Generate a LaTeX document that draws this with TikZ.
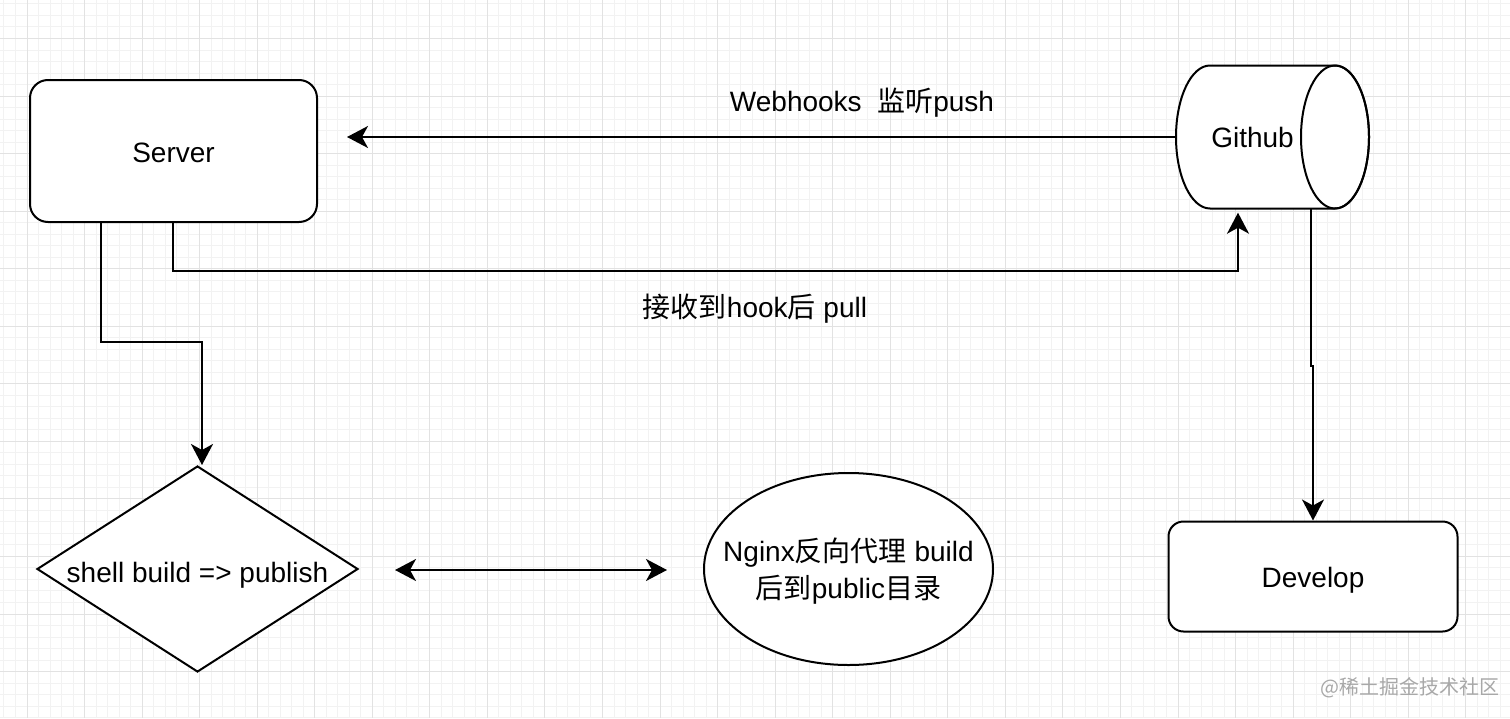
\documentclass[tikz,border=0pt]{standalone}
\usepackage{fontspec}
\setmainfont{Liberation Sans}
\newfontfamily\zhfont{Noto Sans CJK SC}
\newcommand{\zhtxt}[1]{{\zhfont #1}}
\usetikzlibrary{arrows.meta,shapes.geometric,calc}
\definecolor{gridmajor}{HTML}{E2E2E2}
\definecolor{gridminor}{HTML}{F2F2F2}
\definecolor{markgray}{HTML}{A8A8A8}

\begin{document}
\begin{tikzpicture}[x=1pt, y=-1pt,
  font=\fontsize{28}{35}\selectfont,
  minorgrid/.style={gridminor, line width=1pt},
  majorgrid/.style={gridmajor, line width=1pt},
  box/.style={draw, line width=2pt, fill=white, rounded corners=18pt,
              minimum width=287pt, minimum height=142pt, inner sep=0pt},
  capend/.style={x radius=34pt, y radius=71.5pt},
  decision/.style={diamond, draw, line width=2pt, fill=white, aspect=1.56,
              minimum width=321pt, minimum height=206pt, inner sep=0pt},
  oval/.style={ellipse, draw, line width=2pt, fill=white,
              minimum width=289pt, minimum height=192pt, inner sep=0pt},
  arr/.style={-{Stealth[length=21pt, width=22pt, inset=6pt]}, line width=2pt},
  arrboth/.style={{Stealth[length=21pt, width=22pt, inset=6pt]}-{Stealth[length=21pt, width=22pt, inset=6pt]}, line width=2pt}]
  \useasboundingbox (0,0) rectangle (1510,718);
  \fill[white] (0,0) rectangle (1510,718);
  % grid
  \foreach \i in {-2,...,128} \draw[minorgrid] ({27+\i*11.51},0) -- ++(0,718);
  \foreach \j in {-3,...,59} \draw[minorgrid] (0,{38.5+\j*11.51}) -- ++(1510,0);
  \foreach \i in {0,...,25} \draw[majorgrid] ({27+\i*57.55},0) -- ++(0,718);
  \foreach \j in {0,...,11} \draw[majorgrid] (0,{38.5+\j*57.55}) -- ++(1510,0);

  \node[box] (srv) at (173.5,151) {\raisebox{-11pt}[10pt][10pt]{Server}};
  % cylinder lying on its side
  \filldraw[fill=white, line width=2pt] (1335,65.5) -- (1210,65.5)
    arc[start angle=90, end angle=270, capend] -- (1335,208.5)
    arc[start angle=-90, end angle=90, capend] -- cycle;
  \draw[line width=2pt] (1335,137) ellipse [capend];
  \node[minimum width=193pt, minimum height=143pt, inner sep=0pt] (git) at (1272.5,137) {Github\kern40pt};
  \node[box, minimum width=289pt, minimum height=110pt, rounded corners=15pt] (dev) at (1313,576.5) {\raisebox{-10.5pt}[10pt][10pt]{Develop}};
  \node[decision] (sh) at (197.5,569) {\raisebox{-13pt}[10pt][10pt]{shell build => publish}};
  \node[oval, label={[align=center, font=\fontsize{28}{37}\selectfont, yshift=-2pt]center:Nginx\zhtxt{反向代理} build\\\zhtxt{后到}public\zhtxt{目录}}] (ngx) at (848.5,569) {};

  \coordinate (srvin) at (347,137);
  \coordinate (dl) at (395,570);
  \coordinate (dr) at (667,570);

  \draw[arr] (git.west) -- (srvin);
  \draw[arr] ($(srv.south)+(-0.5,0)$) -- ++(0,48) -| ($(git.south)+(-34.5,4)$);
  \draw[arr] ($(srv.south)+(-72.5,0)$) -- ++(0,119) -| ($(sh.north)+(4.5,0)$);
  \draw[arr] ($(git.south)+(38.5,0)$) -- ++(0,157) -| (dev.north);
  \draw[arrboth] (dl) -- (dr);

  \node (hooklbl) at (862,103) {Webhooks\ \ \zhtxt{监听}push};
  \node (pulllbl) at (755,309) {\zhtxt{接收到}hook\zhtxt{后} pull};
  \node[text=markgray, font=\zhfont\fontsize{20}{24}\selectfont] (wm) at (1410,688) {@稀土掘金技术社区};
\end{tikzpicture}
\end{document}
